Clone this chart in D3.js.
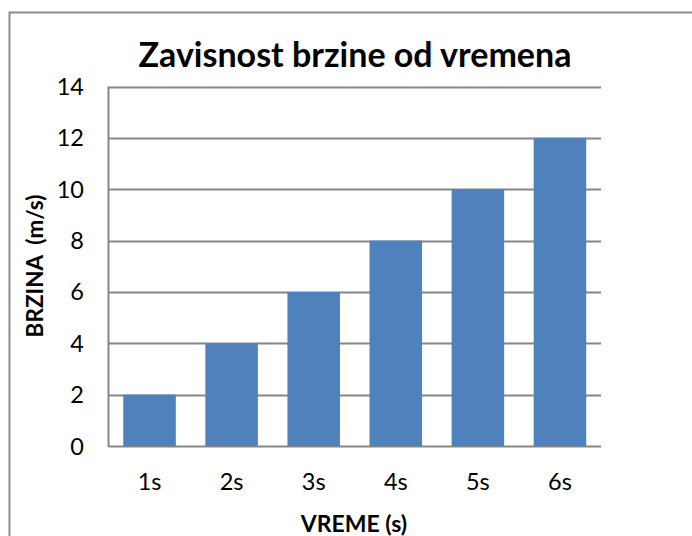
<!DOCTYPE html>
<html>
<head>
<meta charset="utf-8">
<script src="https://cdn.jsdelivr.net/npm/d3@7"></script>
<style>
  body { margin: 0; background: #fff; }
  svg { display: block; font-family: Lato, "Open Sans", sans-serif; }
</style>
</head>
<body>
<svg id="chart" width="692" height="536"></svg>
<script>
// chart data
const categories = ['1s', '2s', '3s', '4s', '5s', '6s'];
const speeds = [2, 4, 6, 8, 10, 12];
const yTicks = [0, 2, 4, 6, 8, 10, 12, 14];

const svg = d3.select('#chart');
const margin = { left: 108.5, right: 91, top: 86.5, bottom: 90 };
const W = 692, H = 536;

// outer chart frame (cropped at right and bottom)
svg.append('path')
  .attr('d', `M9.5,${H} L9.5,12.5 L${W},12.5`)
  .attr('fill', 'none')
  .attr('stroke', '#8c8c8c')
  .attr('stroke-width', 2);

const x = d3.scaleBand()
  .domain(categories)
  .range([margin.left, W - margin.right])
  .paddingInner(0.36)
  .paddingOuter(0.18);

const y = d3.scaleLinear()
  .domain([0, 14])
  .range([446, margin.top]);

// gridlines
svg.append('g')
  .selectAll('line')
  .data(yTicks)
  .join('line')
  .attr('x1', margin.left)
  .attr('x2', W - margin.right)
  .attr('y1', d => Math.round(y(d)) + 0.5)
  .attr('y2', d => Math.round(y(d)) + 0.5)
  .attr('stroke', '#868686')
  .attr('stroke-width', 2);

// bars
svg.append('g')
  .selectAll('rect')
  .data(speeds)
  .join('rect')
  .attr('x', (d, i) => x(categories[i]))
  .attr('width', x.bandwidth())
  .attr('y', d => y(d))
  .attr('height', d => y(0) - y(d))
  .attr('fill', '#4f81bd');

// y axis line
svg.append('line')
  .attr('x1', margin.left).attr('x2', margin.left)
  .attr('y1', y(14)).attr('y2', y(0) + 1)
  .attr('stroke', '#868686')
  .attr('stroke-width', 2);

// y tick labels
svg.append('g')
  .selectAll('text')
  .data(yTicks)
  .join('text')
  .attr('x', 84)
  .attr('y', d => y(d) + 8.5)
  .attr('text-anchor', 'end')
  .attr('font-size', 23.5)
  .text(d => d);

// x tick labels
svg.append('g')
  .selectAll('text')
  .data(categories)
  .join('text')
  .attr('x', d => x(d) + x.bandwidth() / 2)
  .attr('y', 490)
  .attr('text-anchor', 'middle')
  .attr('font-size', 23.5)
  .text(d => d);

// title
svg.append('text')
  .attr('x', 355)
  .attr('y', 67)
  .attr('text-anchor', 'middle')
  .attr('font-size', 34)
  .attr('font-weight', 'bold')
  .text('Zavisnost brzine od vremena');

// axis titles
svg.append('text')
  .attr('x', 354)
  .attr('y', 532)
  .attr('text-anchor', 'middle')
  .attr('font-size', 23)
  .attr('font-weight', 'bold')
  .text('VREME (s)');

svg.append('text')
  .attr('transform', 'translate(43,266) rotate(-90)')
  .attr('text-anchor', 'middle')
  .attr('font-size', 22.5)
  .attr('font-weight', 'bold')
  .style('white-space', 'pre')
  .text('BRZINA  (m/s)');
</script>
</body>
</html>
